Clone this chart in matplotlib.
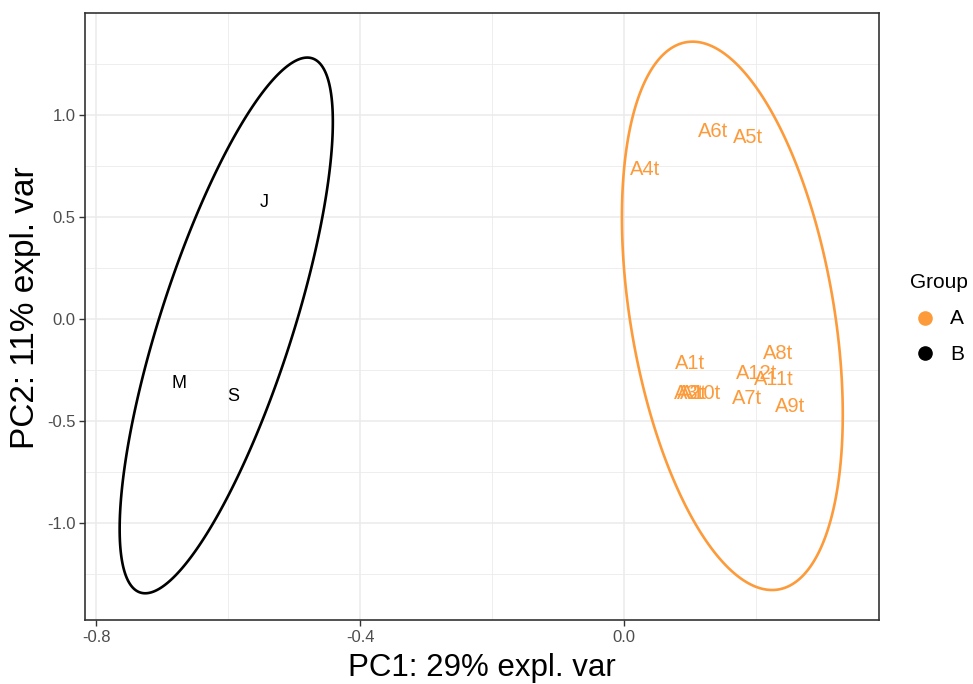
import numpy as np
import matplotlib
matplotlib.use("Agg")
import matplotlib.pyplot as plt
from matplotlib.lines import Line2D
from matplotlib.patches import Polygon

plt.rcParams['font.family'] = ['Liberation Sans', 'DejaVu Sans']

# ---- data (PC scores) ----
labels_A = ["A1t", "A2t", "A3t", "A4t", "A5t", "A6t", "A7t", "A8t", "A9t", "A10t", "A11t", "A12t"]
pc1_A = [0.100, 0.102, 0.099, 0.031, 0.188, 0.135, 0.186, 0.233, 0.251, 0.115, 0.226, 0.201]
pc2_A = [-0.219, -0.369, -0.369, 0.732, 0.889, 0.917, -0.390, -0.170, -0.428, -0.369, -0.300, -0.268]

labels_B = ["J", "M", "S"]
pc1_B = [-0.546, -0.675, -0.593]
pc2_B = [0.572, -0.320, -0.380]

groups = ["A", "B"]
colors = {"A": "#FD9A3A", "B": "#000000"}

# 95% confidence ellipses (centre, half-extent in x / y, correlation)
ell_center_x = [0.1638, -0.603]
ell_center_y = [0.014, -0.033]
ell_half_x = [0.1673, 0.1615]
ell_half_y = [1.344, 1.313]
ell_corr = [-0.36, 0.76]

x_ticks = [-0.8, -0.4, 0.0]
y_ticks = [-1.0, -0.5, 0.0, 0.5, 1.0]
x_ticklabels = ["-0.8", "-0.4", "0.0"]
y_ticklabels = ["-1.0", "-0.5", "0.0", "0.5", "1.0"]

W, H = 973, 684
fig = plt.figure(figsize=(W / 100, H / 100), dpi=100)
ax = fig.add_axes([85 / W, 1 - 620 / H, (879 - 85) / W, (620 - 12.7) / H])

ax.set_xlim(-0.817, 0.386)
ax.set_ylim(-1.477, 1.500)

# grid
ax.set_xticks(x_ticks)
ax.set_yticks(y_ticks)
ax.set_xticks([-0.6, -0.2, 0.2], minor=True)
ax.set_yticks([-1.25, -0.75, -0.25, 0.25, 0.75, 1.25], minor=True)
ax.grid(which="major", color="#EBEBEB", linewidth=1.1, zorder=0)
ax.grid(which="minor", color="#EBEBEB", linewidth=0.6, zorder=0)
ax.set_axisbelow(True)
ax.tick_params(which="minor", length=0)
ax.tick_params(which="major", length=4, width=1.0, color="#333333",
               labelsize=12, labelcolor="#4D4D4D", pad=3)
ax.set_xticklabels(x_ticklabels)
ax.set_yticklabels(y_ticklabels)
for s in ax.spines.values():
    s.set_color("#333333")
    s.set_linewidth(1.2)

# ellipses
theta = np.linspace(0, 2 * np.pi, 400, endpoint=False)
for i, g in enumerate(groups):
    r = ell_corr[i]
    ex = ell_center_x[i] + ell_half_x[i] * np.cos(theta)
    ey = ell_center_y[i] + ell_half_y[i] * (r * np.cos(theta) + np.sqrt(1 - r * r) * np.sin(theta))
    ax.add_patch(Polygon(np.column_stack([ex, ey]), closed=True, fill=False,
                         edgecolor=colors[g], linewidth=1.9, joinstyle="round", zorder=2))

# labels
for lab, x, y in zip(labels_A, pc1_A, pc2_A):
    ax.text(x, y, lab, color=colors["A"], fontsize=14.5, ha="center", va="center", zorder=3)
for lab, x, y in zip(labels_B, pc1_B, pc2_B):
    ax.text(x, y, lab, color=colors["B"], fontsize=13, ha="center", va="center", zorder=3)

ax.set_xlabel("PC1: 29% expl. var", fontsize=22.5, color="black", labelpad=6)


def fx(px):
    return px / W


def fy(py):
    return 1 - py / H


fig.text(fx(26), fy(308), "PC2: 11% expl. var", fontsize=24, color="black",
         rotation=90, ha="center", va="center")

# legend (drawn in figure pixel coordinates)
fig.text(fx(910), fy(283), "Group", fontsize=15, ha="left", va="center", color="black")
for g, py in zip(groups, [318, 353]):
    fig.add_artist(Line2D([fx(925)], [fy(py)], transform=fig.transFigure, linestyle="none",
                          marker="o", markersize=9.5, markerfacecolor=colors[g],
                          markeredgecolor=colors[g]))
    fig.text(fx(950), fy(py + 1), g, fontsize=15, ha="left", va="center", color="black")

fig.savefig("out.png", dpi=100)
